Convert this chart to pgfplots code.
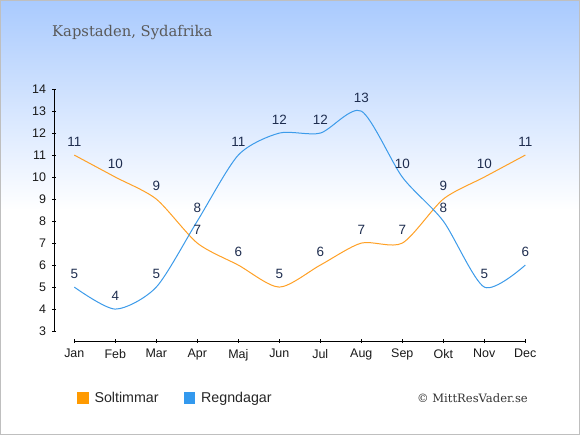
\documentclass[border=0pt]{standalone}
\usepackage{pgfplots}
\pgfplotsset{compat=1.18}
\usepackage{fontspec}
\setmainfont{Liberation Sans}
\newfontfamily\seriffont{DejaVu Serif}
\definecolor{sunc}{HTML}{FFA126}
\definecolor{rainc}{HTML}{3C9BEA}
\definecolor{sunleg}{HTML}{FF9A00}
\definecolor{rainleg}{HTML}{3399EE}
\definecolor{lblc}{HTML}{1E2D4F}
\definecolor{skytop}{HTML}{A9CAFE}
\begin{document}
\begin{tikzpicture}[x=1bp,y=1bp]
\fill[white] (0,0) rectangle (580,435);
\shade[top color=skytop, bottom color=white] (0,225) rectangle (580,435);
\draw[color=black!25, line width=1bp] (0.5,0.5) rectangle (579.5,434.5);
\node[anchor=west, inner sep=0pt, text=black!65, font=\seriffont\fontsize{14.8}{17}\selectfont] at (52,402) {Kapstaden, Sydafrika};
\node[anchor=east, inner sep=0pt, text=black!80, font=\seriffont\fontsize{11.6}{13}\selectfont] at (528,37) {\textcopyright{} MittResVader.se};
\begin{axis}[
  at={(54.2bp,94bp)}, anchor=south west,
  scale only axis,
  x=41bp, y=22bp,
  xmin=-0.49, xmax=11, ymin=2.55, ymax=14,
  axis lines*=left,
  axis line style={draw=none},
  clip=false,
  xtick={0,...,11},
  xticklabels={Jan,Feb,Mar,Apr,Maj,Jun,Jul,Aug,Sep,Okt,Nov,Dec},
  ytick={3,...,14},
  tick align=center,
  major tick length=4bp,
  tick style={black, line width=0.9bp},
  /pgf/number format/assume math mode=true,
  ticklabel style={font=\fontsize{12.5}{14}\selectfont, text=black!90},
  xticklabel style={inner sep=0pt, anchor=north, yshift=-6bp},
  yticklabel style={inner sep=0pt, anchor=east, xshift=-6bp},
  nodes near coords,
  every node near coord/.append style={font=\fontsize{13.5}{15}\selectfont, text=lblc, anchor=base, inner sep=0pt, yshift=8.5bp},
  legend columns=2,
  legend style={at={(axis description cs:0.048,-0.227)}, anchor=west, draw=none, fill=none,
    font=\fontsize{14.3}{16}\selectfont, text=black!85, inner sep=0pt,
    nodes={inner sep=0pt, anchor=west},
    /tikz/every odd column/.append style={column sep=6bp},
    /tikz/every even column/.append style={column sep=25bp}},
]
\draw[black, line width=0.9bp] (axis cs:-0.49,3) -- (axis cs:-0.49,14);
\draw[black, line width=0.9bp] (axis cs:0,2.55) -- (axis cs:11,2.55);
\addplot[sunc, line width=1bp, smooth, tension=0.45, mark=none,
  legend image code/.code={\fill[sunleg] (0bp,-5bp) rectangle (10.5bp,5.5bp);}]
  coordinates {(0,11) (1,10) (2,9) (3,7) (4,6) (5,5) (6,6) (7,7) (8,7) (9,9) (10,10) (11,11)};
\addlegendentry{Soltimmar}
\addplot[rainc, line width=1bp, smooth, tension=0.45, mark=none,
  legend image code/.code={\fill[rainleg] (0bp,-5bp) rectangle (10.5bp,5.5bp);}]
  coordinates {(0,5) (1,4) (2,5) (3,8) (4,11) (5,12) (6,12) (7,13) (8,10) (9,8) (10,5) (11,6)};
\addlegendentry{Regndagar}
\end{axis}
\end{tikzpicture}
\end{document}
